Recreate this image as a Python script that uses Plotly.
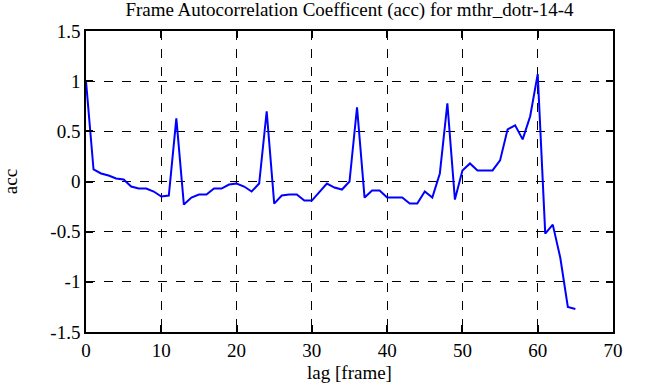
import plotly.graph_objects as go

lags = list(range(66))
acc = [1.00, 0.12, 0.08, 0.06, 0.03, 0.02, -0.05, -0.07, -0.07, -0.10,
       -0.15, -0.14, 0.63, -0.23, -0.16, -0.13, -0.13, -0.07, -0.07, -0.03,
       -0.02, -0.05, -0.10, -0.02, 0.70, -0.22, -0.14, -0.13, -0.13, -0.19,
       -0.19, -0.11, -0.02, -0.06, -0.08, 0.00, 0.74, -0.16, -0.09, -0.09,
       -0.16, -0.16, -0.16, -0.22, -0.22, -0.10, -0.16, 0.08, 0.78, -0.18,
       0.11, 0.18, 0.11, 0.11, 0.11, 0.21, 0.52, 0.56, 0.42, 0.65,
       1.07, -0.52, -0.43, -0.76, -1.25, -1.27]

x_ticks = [0, 10, 20, 30, 40, 50, 60, 70]
y_ticks = [1.5, 1, 0.5, 0, -0.5, -1, -1.5]
y_tick_text = ["1.5", "1", "0.5", "0", "-0.5", "-1", "-1.5"]

font = "Liberation Serif, Times New Roman, serif"

fig = go.Figure()
fig.add_trace(go.Scatter(x=lags, y=acc, mode="lines",
                         line=dict(color="#0000ff", width=2)))

axis_common = dict(
    showline=True, linecolor="black", linewidth=1.5, mirror="ticks",
    ticks="inside", ticklen=7, tickcolor="black", tickwidth=1.5,
    showgrid=True, gridcolor="black", gridwidth=1, griddash="dash",
    zeroline=False, automargin=False,
    tickfont=dict(family=font, size=19, color="black"),
)

fig.update_layout(
    width=646, height=387,
    margin=dict(l=86, r=33, t=31, b=55, autoexpand=False),
    paper_bgcolor="white", plot_bgcolor="white",
    showlegend=False,
    title=dict(text="Frame Autocorrelation Coefficent (acc) for mthr_dotr-14-4",
               x=0.5, xref="paper", xanchor="center",
               y=1 - 9 / 387, yref="container", yanchor="middle",
               font=dict(family=font, size=19, color="black")),
    xaxis=dict(range=[0, 70], tickvals=x_ticks,
               title=dict(text="lag [frame]", font=dict(family=font, size=19, color="black"), standoff=6),
               **axis_common),
    yaxis=dict(range=[-1.5, 1.5], tickvals=y_ticks, ticktext=y_tick_text,
               title=dict(text="acc", font=dict(family=font, size=19, color="black"), standoff=28),
               **axis_common),
)

fig.write_html("out.html", config={"displayModeBar": False},
               post_script="document.body.style.margin='0';")
